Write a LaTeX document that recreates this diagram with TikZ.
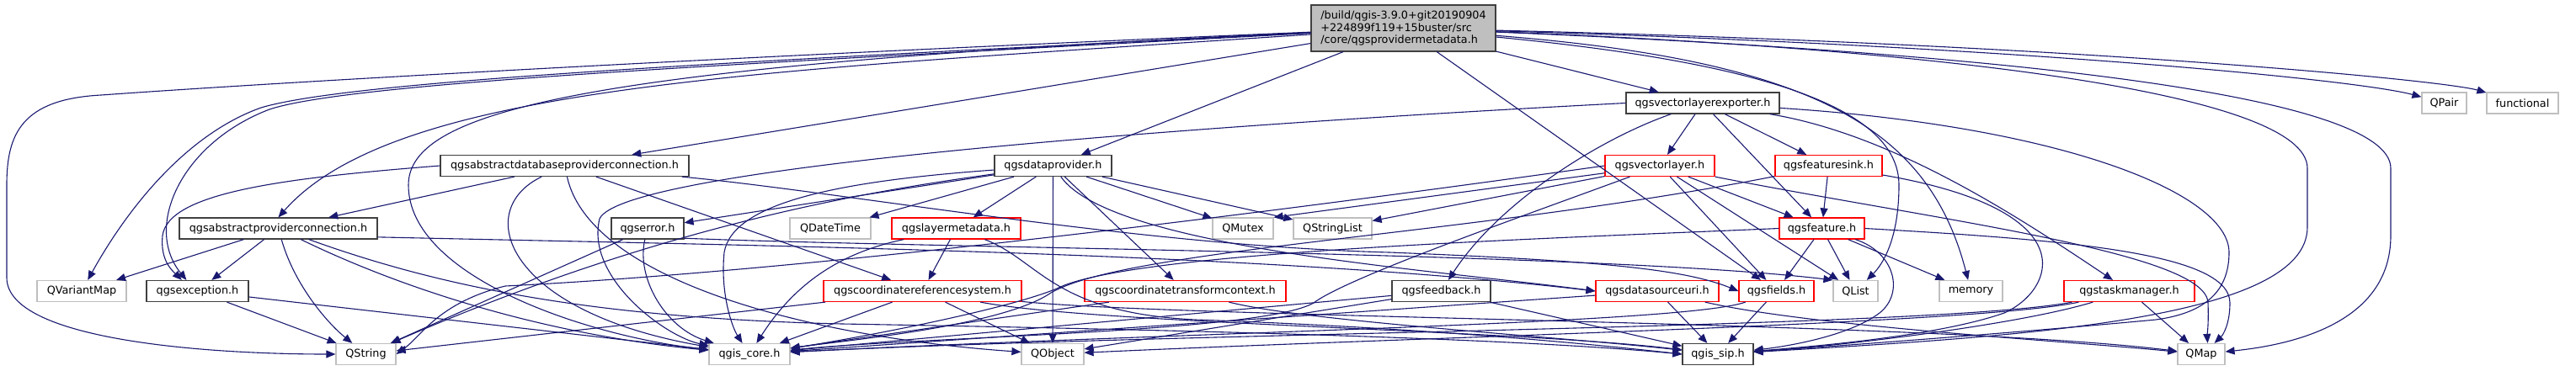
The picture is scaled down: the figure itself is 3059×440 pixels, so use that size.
\documentclass[tikz,border=0pt]{standalone}
\usepackage{fontspec}
\setmainfont{DejaVu Sans}
\usetikzlibrary{arrows.meta}

\definecolor{inclblue}{RGB}{25,25,112}
\definecolor{sysgray}{RGB}{191,191,191}
\definecolor{hdrdark}{RGB}{64,64,64}

\tikzset{
  hdr/.style={draw=hdrdark,line width=0.6pt,inner sep=0pt,minimum height=12.5pt,
    font=\fontsize{6.4}{7.25}\selectfont},
  hdrtrunc/.style={hdr,draw=red},
  hdrsys/.style={hdr,draw=sysgray},
  incl/.style={draw=inclblue,line width=0.55pt,-{Triangle[length=5.5pt,width=4.5pt]}},
}

\begin{document}
\begin{tikzpicture}[x=0.5pt,y=0.5pt,yscale=-1,xscale=1]
%set diagram left start at 0, and has height of 440
\useasboundingbox (0,0) rectangle (3059,440);

% Text Node
\node[hdr,fill=sysgray,minimum width=109.5pt,minimum height=27.5pt,align=left] (root) at (1666.5,33.5) {/build/qgis-3.9.0+git20190904\\+224899f119+15buster/src\\/core/qgsprovidermetadata.h};
% Text Node
\node[hdr,minimum width=91pt] (vlexp) at (2022,122.5) {qgsvectorlayerexporter.h};
\node[hdrsys,minimum width=26.5pt] (qpair) at (2902.5,122.5) {QPair};
\node[hdrsys,minimum width=42.5pt] (functional) at (2995.5,122.5) {functional};
% Text Node
\node[hdr,minimum width=147.5pt] (absdb) at (670.5,197) {qgsabstractdatabaseproviderconnection.h};
\node[hdr,minimum width=69.5pt] (dprov) at (1250.5,197) {qgsdataprovider.h};
\node[hdrtrunc,minimum width=65pt] (vlayer) at (1971,197) {qgsvectorlayer.h};
\node[hdrtrunc,minimum width=63.5pt] (fsink) at (2171.5,197) {qgsfeaturesink.h};
% Text Node
\node[hdr,minimum width=117.5pt] (absconn) at (330.5,271.5) {qgsabstractproviderconnection.h};
\node[hdr,minimum width=43pt] (qerror) at (769,271.5) {qgserror.h};
\node[hdrsys,minimum width=48pt] (qdatetime) at (986,271.5) {QDateTime};
\node[hdrtrunc,minimum width=76.5pt] (lmeta) at (1135.5,271.5) {qgslayermetadata.h};
\node[hdrsys,minimum width=36pt] (qmutex) at (1476,271.5) {QMutex};
\node[hdrsys,minimum width=46.5pt] (qstrlist) at (1582.5,271.5) {QStringList};
\node[hdrtrunc,minimum width=50.5pt] (feature) at (2163.5,271.5) {qgsfeature.h};
% Text Node
\node[hdrsys,minimum width=53pt] (qvmap) at (97,346) {QVariantMap};
\node[hdr,minimum width=60.5pt] (qexcept) at (234.5,346) {qgsexception.h};
\node[hdrtrunc,minimum width=117.5pt] (crs) at (1095.5,346) {qgscoordinatereferencesystem.h};
\node[hdrtrunc,minimum width=119.5pt] (ctc) at (1407.5,346) {qgscoordinatetransformcontext.h};
\node[hdr,minimum width=58.5pt] (feedback) at (1711.5,346) {qgsfeedback.h};
\node[hdrtrunc,minimum width=73pt] (dsuri) at (1968,346) {qgsdatasourceuri.h};
\node[hdrtrunc,minimum width=44.5pt] (fields) at (2109.5,346) {qgsfields.h};
\node[hdrsys,minimum width=26.5pt] (qlist) at (2203.5,346) {QList};
\node[hdrsys,minimum width=37.5pt] (memory) at (2340.5,346) {memory};
\node[hdrtrunc,minimum width=77.5pt] (taskmgr) at (2528.5,346) {qgstaskmanager.h};
% Text Node
\node[hdrsys,minimum width=35.5pt] (qstring) at (434.5,421) {QString};
\node[hdrsys,minimum width=48pt] (qcore) at (890,421) {qgis\_core.h};
\node[hdrsys,minimum width=37pt] (qobject) at (1250,421) {QObject};
\node[hdr,minimum width=42pt] (qsip) at (2040,421) {qgis\_sip.h};
\node[hdrsys,minimum width=28pt] (qmap) at (2614,421) {QMap};

%Curve Lines: root
\draw[incl] (root) .. controls (800,70) and (300,100) .. (120,113) .. controls (25,118) and (8,160) .. (8,220) -- (8,330) .. controls (8,405) and (250,421) .. (qstring);
\draw[incl] (root) .. controls (900,72) and (420,95) .. (310,128) .. controls (220,160) and (150,250) .. (qvmap);
\draw[incl] (root) .. controls (900,75) and (420,97) .. (320,130) .. controls (215,170) and (170,270) .. (qexcept.135);
\draw[incl] (root) .. controls (900,85) and (470,100) .. (absconn.north);
\draw[incl] (root) .. controls (700,78) and (485,130) .. (485,220) .. controls (485,330) and (700,400) .. (qcore);
\draw[incl] (root) -- (absdb);
\draw[incl] (root) -- (dprov);
\draw[incl] (root) -- (vlexp);
\draw[incl] (root) -- (fields);
\draw[incl] (root) .. controls (2100,75) and (2255,130) .. (2255,220) .. controls (2255,285) and (2235,315) .. (qlist);
\draw[incl] (root) .. controls (2150,72) and (2290,150) .. (memory);
\draw[incl] (root) .. controls (2350,62) and (2839,110) .. (2839,200) -- (2839,280) .. controls (2839,385) and (2720,410) .. (qmap);
\draw[incl] (root) .. controls (2300,58) and (2740,110) .. (2740,200) -- (2740,270) .. controls (2740,380) and (2400,400) .. (qsip);
\draw[incl] (root) .. controls (2400,55) and (2800,95) .. (qpair);
\draw[incl] (root) .. controls (2450,52) and (2900,95) .. (functional);

%Curve Lines: exporter
\draw[incl] (vlexp.west) .. controls (1400,150) and (740,200) .. (712,260) .. controls (695,330) and (790,400) .. (qcore);
\draw[incl] (vlexp) -- (vlayer);
\draw[incl] (vlexp) -- (fsink);
\draw[incl] (vlexp) -- (feature);
\draw[incl] (vlexp) .. controls (2250,160) and (2400,260) .. (taskmgr);
\draw[incl] (vlexp) .. controls (1900,165) and (1780,240) .. (feedback);
\draw[incl] (vlexp) .. controls (2450,150) and (2647,230) .. (2647,300) .. controls (2647,345) and (2620,372) .. (2560,380) .. controls (2400,395) and (2200,410) .. (qsip);

%Curve Lines: abstract connections
\draw[incl] (absdb) -- (absconn);
\draw[incl] (absdb.west) .. controls (330,212) and (200,230) .. (193,280) .. controls (190,310) and (205,322) .. (qexcept.145);
\draw[incl] (absdb) .. controls (560,250) and (600,370) .. (qcore);
\draw[incl] (absdb) .. controls (700,330) and (950,400) .. (qobject);
\draw[incl] (absdb) -- (crs);
\draw[incl] (absdb) .. controls (1000,228) and (1350,292) .. (1650,300) .. controls (1900,310) and (2000,320) .. (fields.west);
\draw[incl] (absconn) -- (qvmap);
\draw[incl] (absconn) -- (qexcept);
\draw[incl] (absconn) .. controls (350,340) and (390,385) .. (qstring);
\draw[incl] (absconn) .. controls (450,330) and (620,395) .. (qcore);
\draw[incl] (absconn.-5) .. controls (900,292) and (1500,300) .. (dsuri.west);
\draw[incl] (absconn) .. controls (520,340) and (700,378) .. (1000,385) .. controls (1400,392) and (1800,402) .. (qsip.west);
\draw[incl] (qexcept) -- (qstring);
\draw[incl] (qexcept) -- (qcore);
\draw[incl] (qerror) -- (qstring);
\draw[incl] (qerror) .. controls (755,330) and (790,390) .. (qcore);
\draw[incl] (qerror.-15) .. controls (1100,295) and (1900,300) .. (qlist.north west);

%Curve Lines: data provider
\draw[incl] (dprov) -- (qdatetime);
\draw[incl] (dprov) -- (lmeta);
\draw[incl] (dprov) -- (qobject);
\draw[incl] (dprov) -- (ctc);
\draw[incl] (dprov) -- (qmutex);
\draw[incl] (dprov) -- (qstrlist);
\draw[incl] (dprov) -- (qerror);
\draw[incl] (dprov) .. controls (1000,215) and (870,240) .. (860,300) .. controls (855,350) and (870,390) .. (qcore);
\draw[incl] (dprov) .. controls (1050,225) and (800,262) .. (qstring);
\draw[incl] (dprov) .. controls (1320,295) and (1700,320) .. (dsuri.west);
\draw[incl] (lmeta) -- (crs);
\draw[incl] (lmeta) .. controls (1000,300) and (945,335) .. (qcore);
\draw[incl] (lmeta) .. controls (1235,310) and (1250,372) .. (1420,380) .. controls (1700,390) and (1900,410) .. (qsip.west);
\draw[incl] (crs) -- (qstring);
\draw[incl] (crs) -- (qobject);
\draw[incl] (crs) -- (qcore);
\draw[incl] (crs) .. controls (1300,385) and (1800,392) .. (qsip);
\draw[incl] (crs) .. controls (1400,378) and (2300,382) .. (qmap);
\draw[incl] (ctc) -- (qcore);
\draw[incl] (ctc) .. controls (1550,382) and (1850,400) .. (qsip);

%Curve Lines: lower row
\draw[incl] (feedback) -- (qobject);
\draw[incl] (feedback) -- (qcore);
\draw[incl] (feedback) -- (qsip);
\draw[incl] (dsuri) -- (qcore);
\draw[incl] (dsuri) -- (qsip);
\draw[incl] (dsuri) .. controls (2150,388) and (2450,405) .. (qmap);
\draw[incl] (fields) -- (qsip);
\draw[incl] (fields) .. controls (2000,385) and (1400,395) .. (qcore);
\draw[incl] (taskmgr) .. controls (2350,385) and (1700,400) .. (qobject);
\draw[incl] (taskmgr) .. controls (2300,390) and (1400,395) .. (qcore);
\draw[incl] (taskmgr) .. controls (2400,385) and (2200,410) .. (qsip);
\draw[incl] (taskmgr) -- (qmap);

%Curve Lines: features and vector layer
\draw[incl] (fsink) -- (feature);
\draw[incl] (fsink) .. controls (2480,250) and (2440,345) .. (2380,372) .. controls (2300,400) and (2150,412) .. (qsip);
\draw[incl] (fsink) .. controls (1750,280) and (1340,295) .. (1248,348) .. controls (1190,388) and (1000,405) .. (qcore);
\draw[incl] (feature) -- (fields);
\draw[incl] (feature) -- (qlist);
\draw[incl] (feature) -- (memory);
\draw[incl] (feature) .. controls (2250,300) and (2262,348) .. (2232,372) .. controls (2195,400) and (2120,412) .. (qsip);
\draw[incl] (feature.east) .. controls (2450,285) and (2648,300) .. (2648,360) .. controls (2648,385) and (2640,398) .. (qmap.40);
\draw[incl] (feature.west) .. controls (1800,285) and (1340,300) .. (1255,343) .. controls (1190,370) and (1000,405) .. (qcore);
\draw[incl] (vlayer) -- (qmutex.north east);
\draw[incl] (vlayer) -- (qstrlist);
\draw[incl] (vlayer) -- (feature);
\draw[incl] (vlayer) -- (fields);
\draw[incl] (vlayer) -- (qlist);
\draw[incl] (vlayer) .. controls (1800,260) and (1600,330) .. (1560,360) .. controls (1500,395) and (1100,400) .. (qcore);
\draw[incl] (vlayer.west) .. controls (1600,240) and (1000,320) .. (600,340) .. controls (520,360) and (500,400) .. (qstring.east);
\draw[incl] (vlayer.south east) .. controls (2300,262) and (2620,300) .. (2622,360) .. controls (2623,385) and (2621,400) .. (qmap.60);

\end{tikzpicture}
\end{document}
